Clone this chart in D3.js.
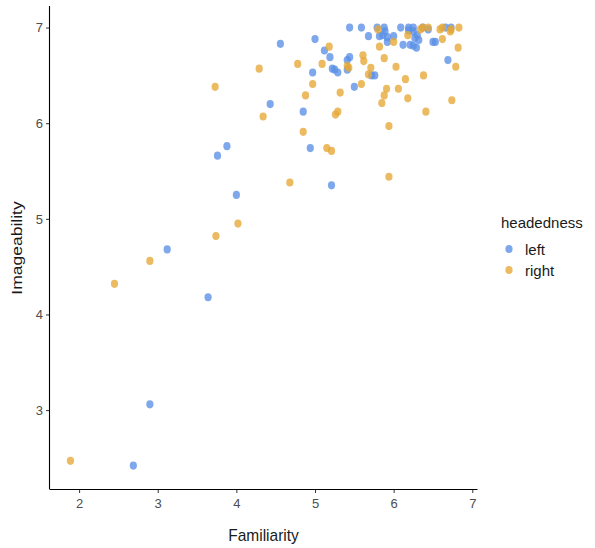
<!DOCTYPE html>
<html>
<head>
<meta charset="utf-8">
<script src="https://cdn.jsdelivr.net/npm/d3@7"></script>
<style>
  html, body { margin: 0; padding: 0; background: #fff; }
  text { font-family: "Liberation Sans", Arial, sans-serif; }
</style>
</head>
<body>
<svg id="chart" width="595" height="548"></svg>
<script>
// ---- data ----
const groups = ["left", "right"];
const groupColors = ["#5a90e6", "#e6a735"];
const xTicks = [2, 3, 4, 5, 6, 7];
const yTicks = [3, 4, 5, 6, 7];
const xTitle = "Familiarity";
const yTitle = "Imageability";
const legendTitle = "headedness";

// [familiarity, imageability]
const leftPoints = [
  [2.69,2.42],[2.90,3.06],[3.12,4.68],[3.64,4.18],[4.00,5.25],[3.76,5.66],[3.88,5.76],
  [4.43,6.20],[4.56,6.83],[5.21,5.35],[4.94,5.74],[4.85,6.12],[5.50,6.38],[5.00,6.88],
  [5.12,6.76],[5.19,6.69],[4.97,6.53],[5.22,6.57],[5.25,6.56],[5.29,6.53],[5.44,6.69],
  [5.41,6.66],[5.41,6.56],[5.72,6.50],[5.76,6.50],[5.44,7.00],[5.59,7.00],[5.79,7.00],
  [5.88,7.00],[5.89,6.96],[5.68,6.91],[5.82,6.91],[5.86,6.92],[5.92,6.90],[5.92,6.85],
  [6.00,6.91],[6.09,7.00],[6.19,7.00],[6.25,7.00],[6.37,7.00],[6.44,6.98],[6.66,7.00],
  [6.73,7.00],[6.19,6.97],[6.25,6.96],[6.30,6.92],[6.27,6.89],[6.32,6.87],[6.12,6.82],
  [6.21,6.82],[6.25,6.81],[6.29,6.79],[6.50,6.85],[6.53,6.85],[6.69,6.66]
];
const rightPoints = [
  [1.89,2.47],[2.45,4.32],[2.90,4.56],[3.74,4.82],[4.02,4.95],[3.73,6.38],[4.34,6.07],
  [4.29,6.57],[4.68,5.38],[5.94,5.44],[5.15,5.74],[5.21,5.71],[4.85,5.91],[5.94,5.97],
  [5.29,6.12],[5.26,6.09],[6.41,6.12],[4.88,6.29],[5.32,6.32],[5.85,6.21],[5.88,6.29],
  [5.91,6.36],[6.06,6.36],[6.18,6.26],[6.74,6.24],[4.97,6.41],[5.59,6.41],[6.15,6.46],
  [6.38,6.50],[4.78,6.62],[5.09,6.62],[5.18,6.80],[5.41,6.60],[5.43,6.58],[5.61,6.71],
  [5.62,6.65],[5.71,6.58],[5.68,6.51],[5.88,6.68],[5.82,6.80],[5.80,6.98],[6.00,6.85],
  [6.03,6.59],[6.18,6.92],[6.34,6.98],[6.37,7.00],[6.44,7.00],[6.59,6.98],[6.62,7.00],
  [6.72,6.96],[6.73,6.98],[6.83,7.00],[6.62,6.88],[6.82,6.79],[6.79,6.59]
];

// ---- layout ----
const svg = d3.select("#chart");
const panel = { left: 50, right: 477, top: 7, bottom: 489 };

const x = d3.scaleLinear().domain([1.63, 7.06]).range([panel.left, panel.right]);
const y = d3.scaleLinear().domain([2.175, 7.215]).range([panel.bottom, panel.top]);
const color = d3.scaleOrdinal().domain(groups).range(groupColors);

const data = [
  ...leftPoints.map(d => ({ fam: d[0], img: d[1], g: "left" })),
  ...rightPoints.map(d => ({ fam: d[0], img: d[1], g: "right" }))
];

// points
svg.append("g").selectAll("ellipse")
  .data(data)
  .join("ellipse")
  .attr("cx", d => x(d.fam))
  .attr("cy", d => y(d.img))
  .attr("rx", 3.6)
  .attr("ry", 4.1)
  .attr("fill", d => color(d.g))
  .attr("fill-opacity", 0.78);

// axes
const xAxis = d3.axisBottom(x).tickValues(xTicks).tickSize(4).tickPadding(3).tickFormat(d3.format("d"));
const yAxis = d3.axisLeft(y).tickValues(yTicks).tickSize(4).tickPadding(3).tickFormat(d3.format("d"));

const gx = svg.append("g").attr("transform", `translate(0,${panel.bottom})`).call(xAxis);
const gy = svg.append("g").attr("transform", `translate(${panel.left},0)`).call(yAxis);

[gx, gy].forEach(g => {
  g.select(".domain").remove();
  g.selectAll(".tick line").attr("stroke", "#333").attr("stroke-width", 1);
  g.selectAll(".tick text").attr("fill", "#4d4d4d").style("font-size", "13px")
    .style("font-family", "'Liberation Sans', Arial, sans-serif");
});
gx.selectAll(".tick text").attr("dy", "0.95em");

// axis lines
svg.append("line").attr("x1", panel.left).attr("x2", panel.right + 0.5)
  .attr("y1", panel.bottom + 0.5).attr("y2", panel.bottom + 0.5)
  .attr("stroke", "#000").attr("stroke-width", 1.1);
svg.append("line").attr("x1", panel.left - 0.5).attr("x2", panel.left - 0.5)
  .attr("y1", panel.top - 1).attr("y2", panel.bottom + 0.5)
  .attr("stroke", "#000").attr("stroke-width", 1.1);

// titles
svg.append("text")
  .attr("x", (panel.left + panel.right) / 2)
  .attr("y", 541)
  .attr("text-anchor", "middle")
  .attr("fill", "#1a1a1a")
  .style("font-size", "15.5px")
  .attr("transform", `translate(0,${541}) scale(1,1.08) translate(0,${-541})`)
  .text(xTitle);

svg.append("text")
  .attr("transform", `translate(22,${(panel.top + panel.bottom) / 2}) rotate(-90) scale(1,0.85)`)
  .attr("text-anchor", "middle")
  .attr("fill", "#1a1a1a")
  .style("font-size", "17.5px")
  .text(yTitle);

// legend
const legend = svg.append("g");
legend.append("text")
  .attr("x", 501).attr("y", 228)
  .attr("fill", "#1a1a1a")
  .style("font-size", "15px")
  .text(legendTitle);

const items = legend.selectAll("g.item")
  .data(groups)
  .join("g")
  .attr("class", "item")
  .attr("transform", (d, i) => `translate(0,${249 + i * 21})`);

items.append("ellipse")
  .attr("cx", 509).attr("cy", 0)
  .attr("rx", 3.6).attr("ry", 4.1)
  .attr("fill", d => color(d))
  .attr("fill-opacity", 0.78);

items.append("text")
  .attr("x", 525).attr("y", 6)
  .attr("fill", "#1a1a1a")
  .style("font-size", "15px")
  .text(d => d);
</script>
</body>
</html>
